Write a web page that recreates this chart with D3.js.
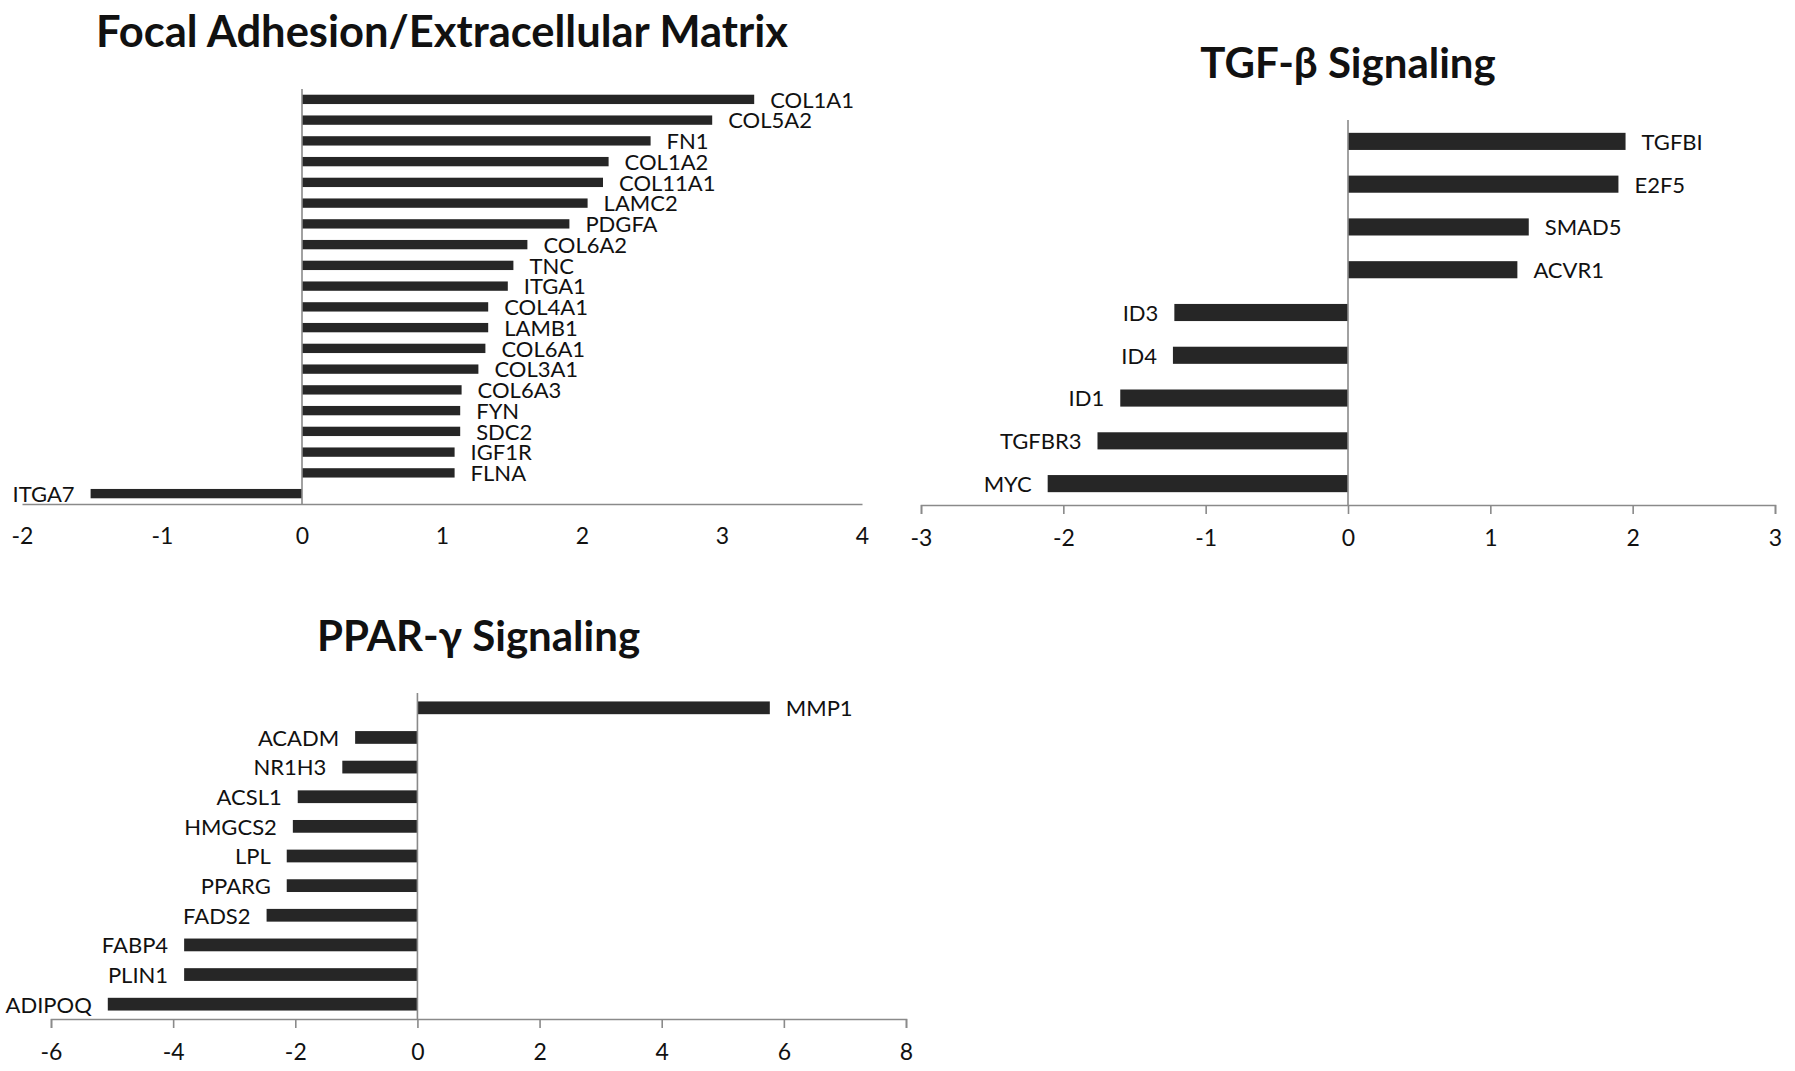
<!DOCTYPE html>
<html>
<head>
<meta charset="utf-8">
<script src="https://d3js.org/d3.v7.min.js"></script>
<style>
  body { margin: 0; background: #fff; }
  text { font-family: Lato, "Open Sans", sans-serif; fill: #111; }
</style>
</head>
<body>
<svg width="1795" height="1071"></svg>

<script>
    // Focal Adhesion / Extracellular Matrix
    const focalGenes = ["COL1A1", "COL5A2", "FN1", "COL1A2", "COL11A1", "LAMC2", "PDGFA", "COL6A2", "TNC", "ITGA1",
        "COL4A1", "LAMB1", "COL6A1", "COL3A1", "COL6A3", "FYN", "SDC2", "IGF1R", "FLNA", "ITGA7"];
    const focalValues = [3.23, 2.93, 2.49, 2.19, 2.15, 2.04, 1.91, 1.61, 1.51, 1.47,
        1.33, 1.33, 1.31, 1.26, 1.14, 1.13, 1.13, 1.09, 1.09, -1.51];
    const focalTicks = [-2, -1, 0, 1, 2, 3, 4];

    // TGF-beta signaling
    const tgfGenes = ["TGFBI", "E2F5", "SMAD5", "ACVR1", "ID3", "ID4", "ID1", "TGFBR3", "MYC"];
    const tgfValues = [1.95, 1.90, 1.27, 1.19, -1.22, -1.23, -1.60, -1.76, -2.11];
    const tgfTicks = [-3, -2, -1, 0, 1, 2, 3];

    // PPAR-gamma signaling
    const pparGenes = ["MMP1", "ACADM", "NR1H3", "ACSL1", "HMGCS2", "LPL", "PPARG", "FADS2", "FABP4", "PLIN1", "ADIPOQ"];
    const pparValues = [5.77, -1.02, -1.23, -1.96, -2.04, -2.14, -2.14, -2.47, -3.82, -3.82, -5.07];
    const pparTicks = [-6, -4, -2, 0, 2, 4, 6, 8];

    const svg = d3.select("svg");

    function barPanel(opts) {
        const data = opts.genes.map((g, i) => ({gene: g, value: opts.values[i]}));

        const x = d3.scaleLinear()
            .domain(d3.extent(opts.ticks))
            .range([opts.left, opts.right]);

        const y = d3.scaleBand()
            .domain(opts.genes)
            .range([opts.top, opts.bottom])
            .paddingInner(opts.pad)
            .paddingOuter(opts.pad / 2);

        const g = svg.append("g");

        // title
        g.append("text")
            .attr("x", (opts.left + opts.right) / 2)
            .attr("y", opts.titleY)
            .attr("text-anchor", "middle")
            .style("font-size", opts.titleSize + "px")
            .style("font-weight", "bold")
            .text(opts.title);

        // bars
        g.append("g")
            .selectAll("rect")
            .data(data)
            .join("rect")
            .attr("x", d => x(Math.min(0, d.value)))
            .attr("y", d => y(d.gene))
            .attr("width", d => Math.abs(x(d.value) - x(0)))
            .attr("height", y.bandwidth())
            .attr("fill", "#262626");

        // value-end labels
        g.append("g")
            .selectAll("text")
            .data(data)
            .join("text")
            .attr("x", d => d.value >= 0 ? x(d.value) + 16 : x(d.value) - 16)
            .attr("y", d => y(d.gene) + y.bandwidth() / 2)
            .attr("dy", "0.38em")
            .attr("text-anchor", d => d.value >= 0 ? "start" : "end")
            .style("font-size", "22px")
            .text(d => d.gene);

        // x axis (plain hyphen for negatives, as in the original)
        const xAxis = d3.axisBottom(x)
            .tickValues(opts.ticks)
            .tickFormat(d => String(d))
            .tickSize(opts.tickLen)
            .tickPadding(opts.tickLen > 0 ? 16 : 24);

        const ax = g.append("g")
            .attr("transform", "translate(0," + opts.bottom + ")")
            .call(xAxis);
        ax.select(".domain").attr("stroke", "#8a8a8a").attr("stroke-width", 1.6);
        ax.selectAll(".tick line").attr("stroke", "#8a8a8a").attr("stroke-width", 1.6);
        ax.selectAll(".tick text")
            .style("font-family", "Lato, sans-serif")
            .style("font-size", "23px")
            .attr("fill", "#111");

        // zero line
        g.append("line")
            .attr("x1", x(0)).attr("x2", x(0))
            .attr("y1", opts.top).attr("y2", opts.bottom)
            .attr("stroke", "#8a8a8a")
            .attr("stroke-width", 1.6);
    }

    barPanel({
        title: "Focal Adhesion/Extracellular Matrix",
        genes: focalGenes, values: focalValues, ticks: focalTicks,
        left: 22, right: 862, top: 89, bottom: 504, pad: 0.55,
        titleY: 47, titleSize: 43.5, tickLen: 0
    });

    barPanel({
        title: "TGF-\u03b2 Signaling",
        genes: tgfGenes, values: tgfValues, ticks: tgfTicks,
        left: 921, right: 1775, top: 120, bottom: 505, pad: 0.6,
        titleY: 78, titleSize: 42, tickLen: 9
    });

    barPanel({
        title: "PPAR-\u03b3 Signaling",
        genes: pparGenes, values: pparValues, ticks: pparTicks,
        left: 51, right: 906, top: 693, bottom: 1019, pad: 0.57,
        titleY: 651, titleSize: 42, tickLen: 9
    });
</script>
</body>
</html>
